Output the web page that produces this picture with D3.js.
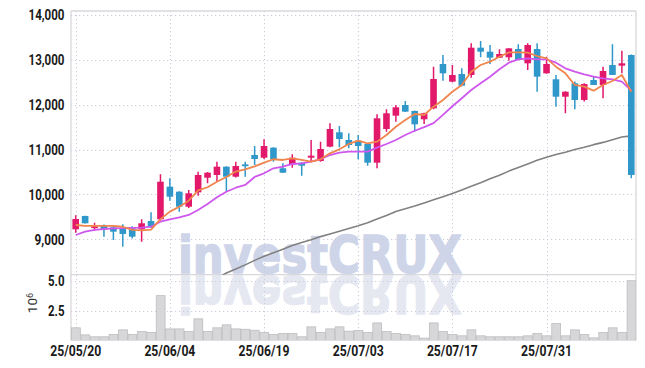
<!DOCTYPE html>
<html><head><meta charset="utf-8">
<script src="https://cdn.jsdelivr.net/npm/d3@7"></script>
<style>body{margin:0;background:#fff}svg{display:block}</style>
</head><body><div id="chart"></div>
<script>
const dates = ["25/05/20","25/05/21","25/05/22","25/05/23","25/05/26","25/05/27","25/05/28","25/05/29","25/05/30","25/06/02",
"25/06/04","25/06/05","25/06/09","25/06/10","25/06/11","25/06/12","25/06/13","25/06/16","25/06/17","25/06/18",
"25/06/19","25/06/20","25/06/23","25/06/24","25/06/25","25/06/26","25/06/27","25/06/30","25/07/01","25/07/02",
"25/07/03","25/07/04","25/07/07","25/07/08","25/07/09","25/07/10","25/07/11","25/07/14","25/07/15","25/07/16",
"25/07/17","25/07/18","25/07/21","25/07/22","25/07/23","25/07/24","25/07/25","25/07/28","25/07/29","25/07/30",
"25/07/31","25/08/01","25/08/04","25/08/05","25/08/06","25/08/07","25/08/08","25/08/11","25/08/12","25/08/13"];
const tickDates = ["25/05/20","25/06/04","25/06/19","25/07/03","25/07/17","25/07/31"];
const priceTicks = [9000,10000,11000,12000,13000,14000];
const volTicks = [2.5,5.0];

const open  = [9223,9520,9270,9319,9268,9245,9245,9223,9408,9446,10173,10061,9727,10047,10373,10434,10619,10396,10670,10879,
10819,11043,10583,10672,10708,10820,10746,11065,11385,11214,11200,11125,10708,11459,11756,11994,11860,11675,11920,12908,
12514,12685,12663,13271,13182,13048,13057,13242,12923,13242,12700,12567,12179,12478,12106,12551,12440,12885,12870,13108];
const high  = [9535,9525,9370,9330,9290,9335,9290,9446,9602,10449,10360,10070,10100,10507,10500,10730,10630,10730,10730,11080,
11230,11050,10694,10895,10715,11214,11176,11586,11526,11363,11325,11140,11787,11898,11994,12083,11870,11820,12847,13108,
12885,12812,13369,13420,13331,13235,13257,13347,13369,13369,13070,12663,12300,12520,12480,12640,12848,13347,13205,13120];
const low   = [9147,9350,9192,9058,8985,8835,9020,8947,9260,9420,9861,9616,9700,9972,10250,10284,10061,10380,10396,10657,
10790,10730,10480,10597,10418,10730,10730,11050,11050,11028,10784,10640,10583,11400,11622,11840,11400,11570,11900,12536,
12500,12410,12600,13057,12908,13040,12980,12990,12774,12290,12690,11957,11809,11898,12070,12440,12143,12663,12700,10360];
const close = [9453,9357,9290,9223,9170,9119,9058,9357,9268,10284,9950,9727,10025,10434,10485,10619,10396,10634,10650,10790,
11080,10784,10485,10819,10641,10864,11013,11459,11236,11102,11080,10708,11697,11809,11943,11845,11563,11809,12573,12700,
12663,12424,13271,13182,13048,13131,13257,12997,13331,12625,12908,12179,12290,12106,12462,12440,12752,12663,12923,10434];
const ma5   = [9319,9300,9300,9300,9299,9280,9210,9200,9215,9450,9616,9727,9860,10090,10160,10284,10390,10510,10560,10625,
10708,10784,10768,10805,10768,10730,10784,10917,11006,11125,11199,11140,11176,11325,11510,11660,11793,11771,11956,12106,
12290,12440,12737,12885,12960,13070,13168,13168,13160,13086,13034,12848,12700,12440,12402,12313,12440,12529,12663,12290];
const ma20  = [9096,9170,9210,9230,9245,9250,9255,9260,9281,9393,9446,9490,9542,9653,9787,9936,10061,10150,10211,10390,
10471,10583,10619,10679,10694,10730,10784,10879,10931,10953,10953,10953,11043,11125,11214,11325,11420,11500,11590,11775,
11965,12143,12328,12478,12625,12790,12937,13012,13034,13012,13012,12937,12812,12737,12677,12625,12588,12566,12514,12313];
const ma60  = [null,null,null,null,null,null,null,null,null,null,null,null,null,null,8000,8130,8250,8340,8430,8530,
8620,8700,8780,8860,8930,8990,9060,9120,9180,9240,9300,9370,9450,9530,9620,9680,9740,9810,9880,9950,
10020,10100,10180,10260,10350,10430,10520,10600,10680,10760,10830,10890,10940,11000,11050,11110,11160,11220,11280,11305];
const volume = [1.06,0.47,0.31,0.31,0.5,0.89,0.5,0.75,0.67,3.75,0.97,0.97,0.75,1.81,0.75,1.06,1.31,0.97,0.94,0.86,
0.67,0.5,0.58,0.58,0.31,1.14,0.67,0.97,1.14,0.78,0.83,0.67,1.47,0.75,0.58,0.5,0.39,0.2,1.47,0.75,
0.5,0.39,0.89,0.39,0.31,0.31,0.31,0.31,0.39,0.58,0.39,1.42,0.39,0.89,0.5,0.22,0.67,1.06,0.67,5.0];

const W = 645, H = 368;
const L = 71, R = 636, pTop = 11, pBot = 274.7, vBot = 340.5;
const FONT = "Roboto,'DejaVu Sans',sans-serif";
const svg = d3.select("#chart").append("svg").attr("width", W).attr("height", H);

const x = d3.scaleBand().domain(dates).range([L, R]).padding(0);
const cx = d => x(d) + x.bandwidth() / 2;
const yP = d3.scaleLinear().domain([9000, 14000]).range([239.3, 15]);
const yV = d3.scaleLinear().domain([0, 5]).range([vBot, 280.7]);

const defs = svg.append("defs");
defs.append("clipPath").attr("id", "cp").append("rect").attr("x", L).attr("y", pTop).attr("width", R - L).attr("height", pBot - pTop);
defs.append("clipPath").attr("id", "cv").append("rect").attr("x", L).attr("y", pBot).attr("width", R - L).attr("height", vBot - pBot);

// watermark
const wmStyle = sel => sel.attr("x", 178).attr("y", 273).attr("textLength", 284).attr("lengthAdjust", "spacingAndGlyphs")
  .attr("font-family", "'DejaVu Sans',sans-serif").attr("font-weight", "bold").attr("font-size", 52).text("investCRUX");
svg.append("text").call(wmStyle).attr("fill", "#cfd5e9").attr("stroke", "#cfd5e9").attr("stroke-width", 1.5);
svg.append("g").attr("clip-path", "url(#cv)")
  .append("text").call(wmStyle).attr("transform", "translate(0,549.4) scale(1,-1)")
  .attr("fill", "#e6e8f1").attr("stroke", "#e6e8f1").attr("stroke-width", 1.5);

// grids
const grid = svg.append("g").attr("stroke", "#c9cadb").attr("stroke-width", 1).attr("stroke-dasharray", "1.2,2.8");
grid.selectAll(".hp").data(priceTicks).join("line").attr("x1", L).attr("x2", R)
  .attr("y1", d => Math.round(yP(d)) + 0.5).attr("y2", d => Math.round(yP(d)) + 0.5);
grid.selectAll(".hv").data(volTicks).join("line").attr("class","hv").attr("x1", L).attr("x2", R)
  .attr("y1", d => Math.round(yV(d)) + 0.5).attr("y2", d => Math.round(yV(d)) + 0.5);
grid.selectAll(".vg").data(tickDates).join("line").attr("class","vg")
  .attr("x1", d => Math.round(cx(d)) + 0.5).attr("x2", d => Math.round(cx(d)) + 0.5).attr("y1", pTop).attr("y2", vBot);

// frame
const fr = svg.append("g").attr("stroke", "#d8d8dc").attr("stroke-width", 1.3).attr("fill", "none");
fr.append("line").attr("x1", L).attr("x2", L).attr("y1", pTop).attr("y2", vBot);
fr.append("line").attr("x1", L).attr("x2", R).attr("y1", pTop).attr("y2", pTop);
fr.append("line").attr("x1", R).attr("x2", R).attr("y1", pTop).attr("y2", vBot);
fr.append("line").attr("x1", L).attr("x2", R).attr("y1", pBot).attr("y2", pBot);

// volume bars
svg.append("g").attr("clip-path", "url(#cv)").selectAll("rect").data(dates).join("rect")
  .attr("x", d => x(d) + 0.5).attr("width", x.bandwidth() - 0.6)
  .attr("y", (d, i) => yV(volume[i])).attr("height", (d, i) => vBot - yV(volume[i]))
  .attr("fill", "#d7d7d9").attr("stroke", "#bdbdc0").attr("stroke-width", 0.8);

// moving averages
const gP = svg.append("g").attr("clip-path", "url(#cp)");
function maLine(arr, color, w) {
  const line = d3.line().defined(v => v != null).x((v, i) => cx(dates[i])).y(v => yP(v));
  gP.append("path").datum(arr).attr("d", line).attr("fill", "none").attr("stroke", color).attr("stroke-width", w).attr("stroke-linejoin","round");
}
maLine(ma60, "#818181", 1.6);

// candles
const up = "#e2186a", dn = "#2f97c9";
const cg = gP.append("g");
dates.forEach((d, i) => {
  const c = close[i] >= open[i] ? up : dn;
  cg.append("line").attr("x1", cx(d)).attr("x2", cx(d)).attr("y1", yP(high[i])).attr("y2", yP(low[i]))
    .attr("stroke", c).attr("stroke-width", 1.5);
  const top = yP(Math.max(open[i], close[i])), bot = yP(Math.min(open[i], close[i]));
  cg.append("rect").attr("x", cx(d) - 3.3).attr("width", 6.6).attr("y", top).attr("height", Math.max(1.8, bot - top))
    .attr("fill", c);
});
maLine(ma20, "#cf57ee", 1.8);
maLine(ma5, "#f0854d", 1.8);

// axes labels
const ax = svg.append("g").attr("font-family", FONT).attr("fill", "#1a1a1a").attr("font-weight", 700);
ax.selectAll(".pl").data(priceTicks).join("text").attr("x", 64.5).attr("y", d => yP(d)).attr("dy", "0.37em")
  .attr("text-anchor", "end").attr("font-size", 14.5)
  .attr("textLength", d => d >= 10000 ? 36 : 30).attr("lengthAdjust", "spacingAndGlyphs")
  .text(d => d3.format(",")(d));
ax.selectAll(".vl").data(volTicks).join("text").attr("x", 64.5).attr("y", d => yV(d)).attr("dy", "0.37em")
  .attr("text-anchor", "end").attr("font-size", 14.5).attr("textLength", 16.5).attr("lengthAdjust", "spacingAndGlyphs")
  .text(d => d.toFixed(1));
ax.selectAll(".xl").data(tickDates).join("text").attr("x", d => cx(d)).attr("y", 355.5)
  .attr("text-anchor", "middle").attr("font-size", 14.5).attr("textLength", 51).attr("lengthAdjust", "spacingAndGlyphs")
  .text(d => d);
const ex = ax.append("text").attr("transform", "translate(37,303) rotate(-90)").attr("text-anchor", "middle")
  .attr("font-size", 13.5).attr("font-weight", 400).attr("fill", "#333");
ex.append("tspan").text("10");
ex.append("tspan").attr("dy", "-0.45em").attr("font-size", 9).text("6");
</script></body></html>
